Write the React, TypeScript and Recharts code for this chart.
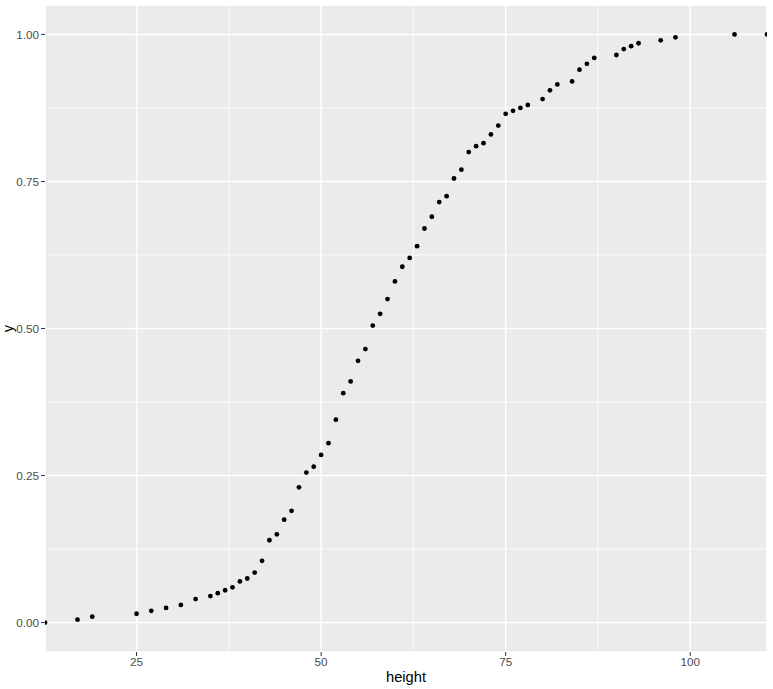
import { CartesianGrid, ReferenceLine, Scatter, ScatterChart, XAxis, YAxis } from "recharts";

const heights = [
  12.6, 17, 19, 25, 27, 29, 31, 33, 35, 36, 37, 38, 39, 40, 41, 42, 43, 44, 45, 46,
  47, 48, 49, 50, 51, 52, 53, 54, 55, 56, 57, 58, 59, 60, 61, 62, 63, 64, 65, 66,
  67, 68, 69, 70, 71, 72, 73, 74, 75, 76, 77, 78, 80, 81, 82, 84, 85, 86, 87, 90,
  91, 92, 93, 96, 98, 106, 110.4,
];
const probs = [
  0, 0.005, 0.01, 0.015, 0.02, 0.025, 0.03, 0.04, 0.045, 0.05, 0.055, 0.06, 0.07, 0.075, 0.085, 0.105, 0.14, 0.15, 0.175, 0.19,
  0.23, 0.255, 0.265, 0.285, 0.305, 0.345, 0.39, 0.41, 0.445, 0.465, 0.505, 0.525, 0.55, 0.58, 0.605, 0.62, 0.64, 0.67, 0.69, 0.715,
  0.725, 0.755, 0.77, 0.8, 0.81, 0.815, 0.83, 0.845, 0.865, 0.87, 0.875, 0.88, 0.89, 0.905, 0.915, 0.92, 0.94, 0.95, 0.96, 0.965,
  0.975, 0.98, 0.985, 0.99, 0.995, 1.0, 1.0,
];

const xTicks = [25, 50, 75, 100];
const xMinor = [37.5, 62.5, 87.5];
const yTicks = [0, 0.25, 0.5, 0.75, 1];
const yMinor = [0.125, 0.375, 0.625, 0.875];

const points = heights.map((h, i) => ({ height: h, y: probs[i] }));

const FONT = "'Liberation Sans', Arial, sans-serif";
const TICK = { fill: "#4D4D4D", fontSize: 11.7, fontFamily: FONT };

function YTitle(props: any) {
  const vb = props.viewBox;
  const cx = vb.x + 8;
  const cy = vb.y + vb.height / 2;
  return (
    <text
      x={cx}
      y={cy}
      transform={`rotate(-90 ${cx} ${cy})`}
      textAnchor="middle"
      dominantBaseline="central"
      fill="#000"
      fontSize={14.7}
      fontFamily={FONT}
    >
      y
    </text>
  );
}

// small filled dot like ggplot's default geom_point
const Dot = (p: any) => <circle cx={p.cx} cy={p.cy} r={2.4} fill="#000000" />;

export default function App() {
  return (
    <div style={{ position: "absolute", left: 0, top: 0, background: "#fff" }}>
      <ScatterChart width={773} height={689} margin={{ top: 5, right: 6, left: 0, bottom: 0 }}>
        <CartesianGrid fill="#EBEBEB" stroke="#FFFFFF" strokeWidth={1.5} />
        {xMinor.map((v) => (
          <ReferenceLine key={`x${v}`} x={v} stroke="#FFFFFF" strokeWidth={0.8} />
        ))}
        {yMinor.map((v) => (
          <ReferenceLine key={`y${v}`} y={v} stroke="#FFFFFF" strokeWidth={0.8} />
        ))}
        <XAxis
          type="number"
          dataKey="height"
          domain={[12.6, 110.4]}
          ticks={xTicks}
          allowDataOverflow
          height={37}
          tick={TICK}
          tickSize={4}
          tickLine={{ stroke: "#333333" }}
          axisLine={false}
          label={{ value: "height", position: "insideBottom", offset: 7, fill: "#000", fontSize: 14.7, fontFamily: FONT }}
        />
        <YAxis
          type="number"
          dataKey="y"
          domain={[-0.05, 1.05]}
          ticks={yTicks}
          allowDataOverflow
          width={45}
          tick={TICK}
          tickSize={4}
          tickLine={{ stroke: "#333333" }}
          axisLine={false}
          tickFormatter={(v: number) => v.toFixed(2)}
          label={<YTitle />}
        />
        <Scatter data={points} fill="#000000" shape={Dot} isAnimationActive={false} />
      </ScatterChart>
    </div>
  );
}
